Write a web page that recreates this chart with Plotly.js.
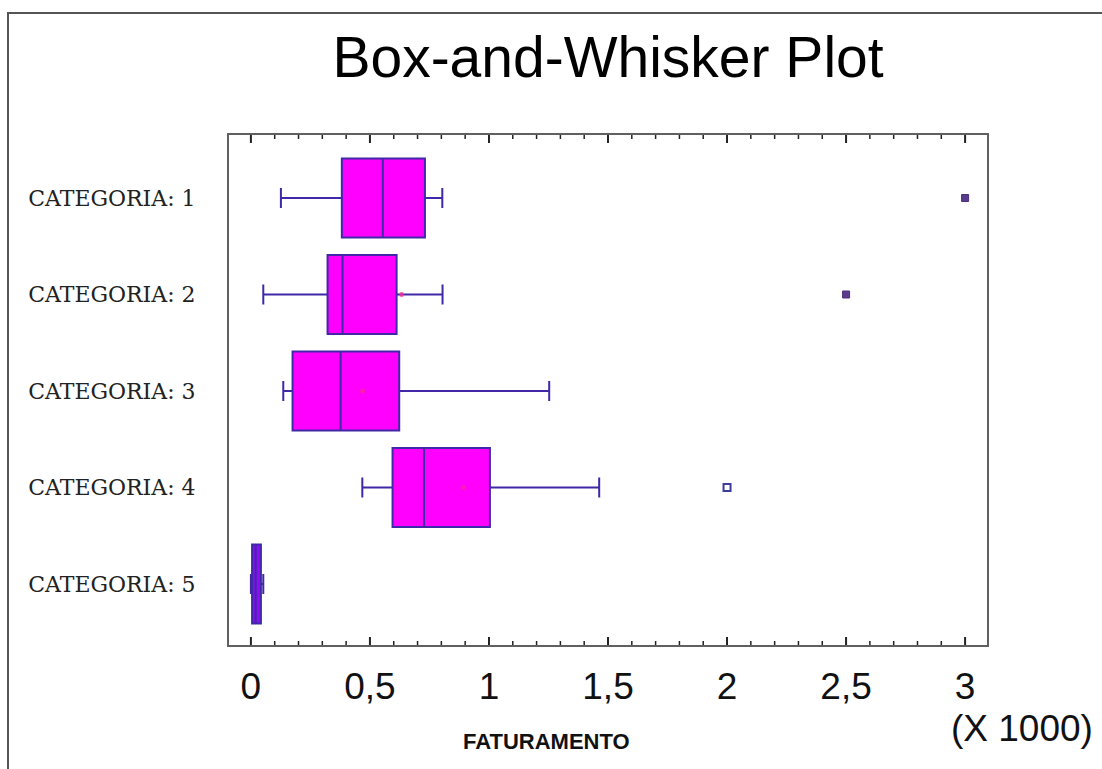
<!DOCTYPE html>
<html>
<head>
<meta charset="utf-8">
<script src="https://cdn.plot.ly/plotly-3.0.1.min.js"></script>
<style>
html,body{margin:0;padding:0;background:#fff;overflow:hidden;}
#chart{width:1102px;height:769px;position:relative;}
#frame{position:absolute;left:7px;top:12px;width:1110px;height:800px;border:2px solid #555;pointer-events:none;box-sizing:border-box;}
</style>
</head>
<body>
<div id="chart"></div>
<div id="frame"></div>
<script>
// ---- data (FATURAMENTO, raw units; axis shown in X 1000) ----
const categories = ["CATEGORIA: 1", "CATEGORIA: 2", "CATEGORIA: 3", "CATEGORIA: 4", "CATEGORIA: 5"];
const lowerWhisker = [126, 52, 136, 468, 0];
const q1Values     = [382, 322, 175, 595, 5];
const medianValues = [554, 385, 377, 727, 20];
const q3Values     = [731, 612, 623, 1004, 42];
const upperWhisker = [804, 805, 1253, 1463, 52];

const meanCats   = ["CATEGORIA: 2", "CATEGORIA: 3", "CATEGORIA: 4"];
const meanValues = [633, 469, 892];

const farOutlierCats   = ["CATEGORIA: 1", "CATEGORIA: 2"];
const farOutlierValues = [3000, 2500];
const outlierCats   = ["CATEGORIA: 4"];
const outlierValues = [2000];

const tickValues = [0, 500, 1000, 1500, 2000, 2500, 3000];
const tickLabels = ["0", "0,5", "1", "1,5", "2", "2,5", "3"];
const minorTickValues = [];
for (let v = 0; v <= 3000; v += 100) if (v % 500 !== 0) minorTickValues.push(v);

// ---- traces ----
function boxFor(from, to, fill) {
  return {
    type: "box",
    orientation: "h",
    y: categories.slice(from, to),
    lowerfence: lowerWhisker.slice(from, to),
    q1: q1Values.slice(from, to),
    median: medianValues.slice(from, to),
    q3: q3Values.slice(from, to),
    upperfence: upperWhisker.slice(from, to),
    fillcolor: fill,
    line: {color: "#4028a8", width: 2},
    width: 0.82,
    whiskerwidth: 0.25,
    boxpoints: false,
    hoverinfo: "x+y",
    showlegend: false
  };
}

const meanTrace = {
  type: "scatter", mode: "markers",
  x: meanValues, y: meanCats,
  marker: {symbol: "circle", size: 5, color: "rgba(255,40,150,0.75)"},
  showlegend: false, hoverinfo: "x+y"
};

const farTrace = {
  type: "scatter", mode: "markers",
  x: farOutlierValues, y: farOutlierCats,
  marker: {symbol: "square", size: 7, color: "#5a3c8c", line: {color: "#4a2f80", width: 1}},
  showlegend: false, hoverinfo: "x+y"
};

const outTrace = {
  type: "scatter", mode: "markers",
  x: outlierValues, y: outlierCats,
  marker: {symbol: "square-open", size: 7, color: "#3c3c9a", line: {width: 2}},
  showlegend: false, hoverinfo: "x+y"
};

// frame tick marks on the bottom and top edges, placed through the x scale
const plotHeightPx = 510;
function edgeTickShapes(vals, lenPx, width) {
  const f = lenPx / plotHeightPx;
  const out = [];
  vals.forEach(function(v) {
    out.push({type: "line", xref: "x", yref: "paper", x0: v, x1: v, y0: 0, y1: f,
              line: {color: "#222", width: width}, layer: "above"});
    out.push({type: "line", xref: "x", yref: "paper", x0: v, x1: v, y0: 1, y1: 1 - f,
              line: {color: "#222", width: width}, layer: "above"});
  });
  return out;
}

const layout = {
  width: 1102, height: 769,
  margin: {l: 229, r: 115, t: 135, b: 124},
  boxmode: "overlay",
  title: {
    text: "Box-and-Whisker Plot",
    font: {family: "Liberation Sans, Arial, sans-serif", size: 57, color: "#000"},
    x: 0.5, xref: "paper", xanchor: "center",
    y: 1 - 57 / 769, yref: "container", yanchor: "middle"
  },
  xaxis: {
    range: [-92, 3092],
    showgrid: false, zeroline: false,
    showline: true, linecolor: "#606060", linewidth: 2, mirror: true,
    ticks: "",
    tickmode: "array", tickvals: tickValues, ticktext: tickLabels,
    tickfont: {family: "Liberation Sans, Arial, sans-serif", size: 37, color: "#111"},
    ticklabelstandoff: 8
  },
  yaxis: {
    type: "category",
    categoryorder: "array", categoryarray: categories,
    range: [4.632, -0.653],
    showgrid: false, zeroline: false,
    showline: true, linecolor: "#606060", linewidth: 2, mirror: true,
    ticks: "outside", ticklen: 27, tickcolor: "rgba(0,0,0,0)",
    tickfont: {family: "DejaVu Serif, Liberation Serif, serif", size: 22, color: "#222"}
  },
  shapes: edgeTickShapes(tickValues, 8, 2).concat(edgeTickShapes(minorTickValues, 4, 1.5)),
  annotations: [
    {text: "FATURAMENTO", xref: "paper", yref: "paper",
     x: (546 - 229) / 758, y: (645 - 741) / 510, xanchor: "center", yanchor: "middle",
     showarrow: false, font: {family: "Liberation Sans, Arial, sans-serif", size: 22, color: "#111", weight: "bold"}},
    {text: "(X 1000)", xref: "paper", yref: "paper",
     x: (1022 - 229) / 758, y: (645 - 728) / 510, xanchor: "center", yanchor: "middle",
     showarrow: false, font: {family: "Liberation Sans, Arial, sans-serif", size: 37, color: "#111"}}
  ]
};

Plotly.newPlot("chart", [
  boxFor(0, 4, "#ff00ff"), boxFor(4, 5, "#8a10f0"),
  meanTrace, farTrace, outTrace
], layout, {displayModeBar: false});
</script>
</body>
</html>
